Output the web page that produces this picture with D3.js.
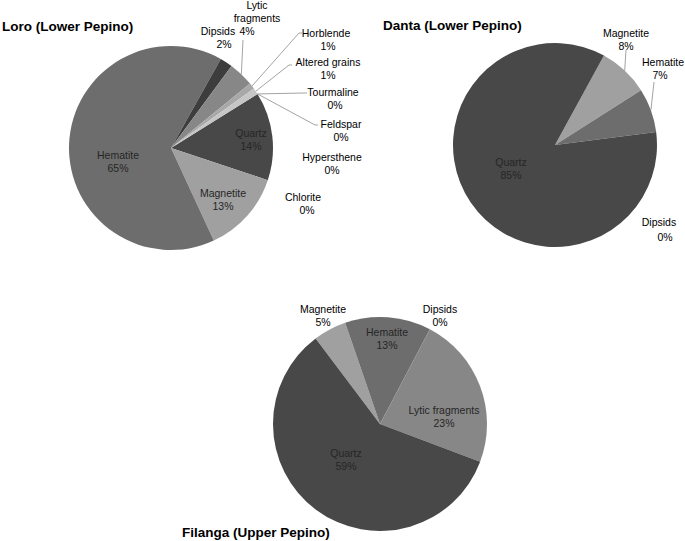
<!DOCTYPE html>
<html>

<head>
    <meta charset="utf-8">
    <title>Heavy mineral composition - Pepino formation</title>
    <style>
        body {
            margin: 0;
            background: #fff;
        }

        text {
            font-family: "Liberation Sans", Arial, sans-serif;
        }

        .title {
            font-size: 13.5px;
            font-weight: bold;
            fill: #000;
        }

        .lbl {
            font-size: 10.5px;
        }

        .leader {
            fill: none;
            stroke: #a3a3a3;
            stroke-width: 1;
        }
    </style>
    <script src="https://cdn.jsdelivr.net/npm/d3@7"></script>
</head>

<body>
    <script>
        // ---- data (percentages) ----
        var loroCategories = ["Quartz", "Magnetite", "Hematite", "Dipsids", "Lytic fragments", "Horblende",
            "Altered grains", "Tourmaline", "Feldspar", "Hypersthene", "Chlorite"];
        var loroValues = [14, 13, 65, 2, 4, 1, 1, 0, 0, 0, 0];

        var dantaCategories = ["Magnetite", "Hematite", "Dipsids", "Quartz"];
        var dantaValues = [8, 7, 0, 85];

        var filangaCategories = ["Magnetite", "Hematite", "Dipsids", "Lytic fragments", "Quartz"];
        var filangaValues = [5, 13, 0, 23, 59];

        var titles = ["Loro (Lower Pepino)", "Danta (Lower Pepino)", "Filanga (Upper Pepino)"];

        // ---- styling / layout ----
        var width = 685,
            height = 541;

        var greys = {
            "Quartz": "#484848",
            "Magnetite": "#a0a0a0",
            "Hematite": "#6d6d6d",
            "Dipsids": "#3d3d3d",
            "Lytic fragments": "#878787",
            "Horblende": "#a8a8a8",
            "Altered grains": "#c6c6c6",
            "Tourmaline": "#d0d0d0",
            "Feldspar": "#b0b0b0",
            "Hypersthene": "#909090",
            "Chlorite": "#707070"
        };

        // label positions relative to each pie centre: [x, y] of first line,
        // optional leader attach point, inner flag, tweaks for the % line
        var charts = [{
            cats: loroCategories, vals: loroValues, title: titles[0],
            cx: 171, cy: 148, r: 102, start: 58, titleX: 2, titleY: 31,
            labels: {
                "Hematite": {x: -53, y: 11, inner: true},
                "Quartz": {x: 80, y: -11, inner: true},
                "Magnetite": {x: 52, y: 49, inner: true},
                "Dipsids": {x: 47, y: -113, pdx: 6},
                "Lytic fragments": {x: 86, y: -139, lines: ["Lytic", "fragments"], pdx: -10, lead: [72, -108]},
                "Horblende": {x: 155, y: -111, pdx: 2, lead: [131, -115]},
                "Altered grains": {x: 157, y: -82, lead: [121, -83]},
                "Tourmaline": {x: 162, y: -52, pdx: 2, lead: [136, -55]},
                "Feldspar": {x: 170, y: -20, lead: [147, -23]},
                "Hypersthene": {x: 161, y: 13},
                "Chlorite": {x: 132, y: 53, pdx: 4}
            }
        }, {
            cats: dantaCategories, vals: dantaValues, title: titles[1],
            cx: 555, cy: 145, r: 102, start: 28.7, titleX: 383, titleY: 30,
            labels: {
                "Quartz": {x: -44, y: 21, inner: true},
                "Magnetite": {x: 71, y: -108, lead: [71, -95]},
                "Hematite": {x: 108, y: -79, pdx: -3, lead: [99, -63]},
                "Dipsids": {x: 104, y: 81, pdx: 6, gap: 15}
            }
        }, {
            cats: filangaCategories, vals: filangaValues, title: titles[2],
            cx: 380, cy: 424, r: 107, start: -37, titleX: 182, titleY: 537,
            labels: {
                "Magnetite": {x: -57, y: -111},
                "Hematite": {x: 7, y: -88, inner: true},
                "Dipsids": {x: 60, y: -111},
                "Lytic fragments": {x: 64, y: -10, inner: true},
                "Quartz": {x: -34, y: 33, inner: true}
            }
        }];

        var svg = d3.select("body").append("svg")
            .attr("width", width)
            .attr("height", height);

        charts.forEach(function(c) {
            var data = c.cats.map(function(name, i) {
                return {name: name, value: c.vals[i]};
            });

            var a0 = c.start * Math.PI / 180;
            var pie = d3.pie()
                .sort(null)
                .value(function(d) { return d.value; })
                .startAngle(a0)
                .endAngle(a0 + 2 * Math.PI);

            var arc = d3.arc().innerRadius(0).outerRadius(c.r);
            var edge = d3.arc().innerRadius(c.r).outerRadius(c.r);

            var g = svg.append("g")
                .attr("transform", "translate(" + c.cx + "," + c.cy + ")");

            var arcs = pie(data);

            g.selectAll("path.slice")
                .data(arcs.filter(function(d) { return d.value > 0; }))
                .enter().append("path")
                .attr("class", "slice")
                .attr("d", arc)
                .attr("fill", function(d) { return greys[d.data.name]; });

            // leader lines
            arcs.forEach(function(d) {
                var L = c.labels[d.data.name];
                if (!L || !L.lead) return;
                var p = edge.centroid(d);
                var pts = [p, [L.lead[0] - 3, L.lead[1]], L.lead];
                if (Math.abs(L.lead[0] - p[0]) < 4) pts = [p, L.lead];
                g.append("path")
                    .attr("class", "leader")
                    .attr("d", d3.line()(pts));
            });

            // labels
            arcs.forEach(function(d) {
                var L = c.labels[d.data.name];
                if (!L) return;
                var lines = L.lines || [d.data.name];
                var t = g.append("text")
                    .attr("class", "lbl")
                    .attr("text-anchor", "middle")
                    .attr("fill", L.inner ? "#262626" : "#000");
                lines.forEach(function(s, i) {
                    t.append("tspan")
                        .attr("x", L.x)
                        .attr("y", L.y + i * 13)
                        .text(s);
                });
                t.append("tspan")
                    .attr("x", L.x + (L.pdx || 0))
                    .attr("y", L.y + (lines.length - 1) * 13 + (L.gap || 13))
                    .text(d.data.value + "%");
            });

            svg.append("text")
                .attr("class", "title")
                .attr("x", c.titleX)
                .attr("y", c.titleY)
                .text(c.title);
        });
    </script>
</body>

</html>
